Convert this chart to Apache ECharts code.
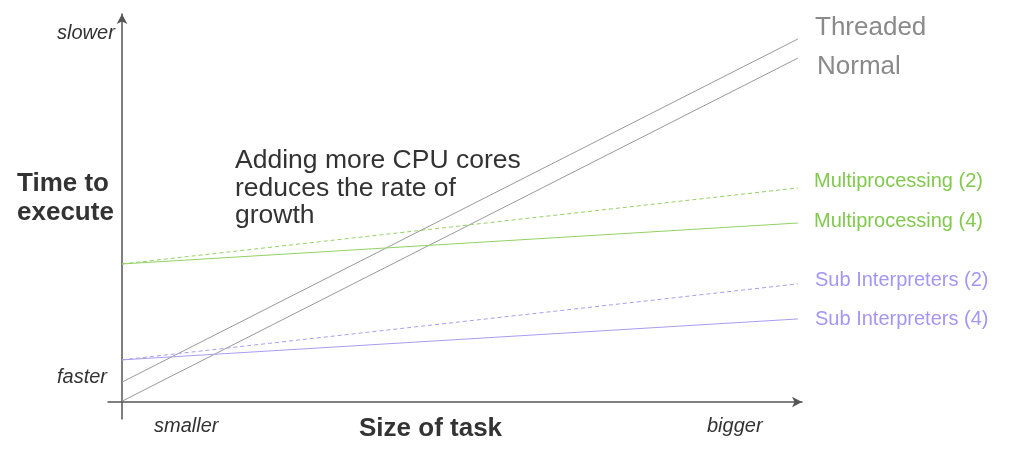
<!DOCTYPE html>
<html>
<head>
<meta charset="utf-8">
<script src="https://cdn.jsdelivr.net/npm/echarts@6/dist/echarts.min.js"></script>
<style>
html,body{margin:0;padding:0;background:#fff;}
#c{width:1024px;height:461px;}
</style>
</head>
<body>
<div id="c"></div>
<script>
// Task size positions (start, end) on a 0..100 scale
var taskSize = [0, 100];
// Time-to-execute values at the two task sizes
var threaded = [5.1, 93.1];
var normal = [0.2, 88.2];
var multi2 = [35.4, 54.9];
var multi4 = [35.4, 45.9];
var sub2 = [10.8, 30.3];
var sub4 = [10.8, 21.3];
var seriesNames = ['Threaded', 'Normal', 'Multiprocessing (2)', 'Multiprocessing (4)', 'Sub Interpreters (2)', 'Sub Interpreters (4)'];
var axisTitles = ['Time to\nexecute', 'Size of task'];
var yEndLabels = ['slower', 'faster'];
var xEndLabels = ['smaller', 'bigger'];
var annotation = 'Adding more CPU cores\nreduces the rate of\ngrowth';

var GRAY = '#999999', GRAY_T = '#8a8a8a';
var GREEN = '#92d262', GREEN_T = '#82c94e';
var PURPLE = '#a89cf2', PURPLE_T = '#a596f4';
var FONT = '"Liberation Sans", Arial, Helvetica, sans-serif';

function pts(vals){ return taskSize.map(function(x,i){ return [x, vals[i]]; }); }
function mk(name, vals, color, dashed){
  return {
    type:'line', name:name, data:pts(vals), symbol:'none', silent:true,
    lineStyle:{color:color, width:1, type: dashed ? [4,3] : 'solid'},
    animation:false
  };
}

var chart = echarts.init(document.getElementById('c'), null, {renderer:'canvas'});
chart.setOption({
  animation:false,
  grid:{left:108, right:1024-802, top:14, bottom:461-419, containLabel:false},
  xAxis:{type:'value', min:-2.07, max:100.6, splitLine:{show:false}, axisTick:{show:false}, axisLabel:{show:false},
    axisLine:{show:true, onZero:true, symbol:['none','arrow'], symbolSize:[8,10], lineStyle:{color:'#555', width:1.5}}},
  yAxis:{type:'value', min:-4.36, max:99.5, splitLine:{show:false}, axisTick:{show:false}, axisLabel:{show:false},
    axisLine:{show:true, onZero:true, symbol:['none','arrow'], symbolSize:[8,10], lineStyle:{color:'#555', width:1.5}}},
  series:[
    mk(seriesNames[0], threaded, GRAY, false),
    mk(seriesNames[1], normal, GRAY, false),
    mk(seriesNames[2], multi2, GREEN, true),
    mk(seriesNames[3], multi4, GREEN, false),
    mk(seriesNames[4], sub2, PURPLE, true),
    mk(seriesNames[5], sub4, PURPLE, false)
  ],
  graphic:[
    {type:'text', left:815, top:15, silent:true, style:{text:seriesNames[0], fontFamily:FONT, fontSize:26, fill:GRAY_T}},
    {type:'text', left:817, top:54, silent:true, style:{text:seriesNames[1], fontFamily:FONT, fontSize:26, fill:GRAY_T}},
    {type:'text', left:814, top:171, silent:true, style:{text:seriesNames[2], fontFamily:FONT, fontSize:20, fill:GREEN_T}},
    {type:'text', left:814, top:211, silent:true, style:{text:seriesNames[3], fontFamily:FONT, fontSize:20, fill:GREEN_T}},
    {type:'text', left:815, top:270, silent:true, style:{text:seriesNames[4], fontFamily:FONT, fontSize:20, fill:PURPLE_T}},
    {type:'text', left:815, top:309, silent:true, style:{text:seriesNames[5], fontFamily:FONT, fontSize:20, fill:PURPLE_T}},
    {type:'text', left:17, top:169, silent:true, style:{text:axisTitles[0], fontFamily:FONT, fontSize:26, fontWeight:'bold', lineHeight:29, fill:'#333'}},
    {type:'text', left:359, top:416, silent:true, style:{text:axisTitles[1], fontFamily:FONT, fontSize:26, fontWeight:'bold', fill:'#333'}},
    {type:'text', left:57, top:23, silent:true, style:{text:yEndLabels[0], fontFamily:FONT, fontSize:20, fontStyle:'italic', fill:'#333'}},
    {type:'text', left:57, top:367, silent:true, style:{text:yEndLabels[1], fontFamily:FONT, fontSize:20, fontStyle:'italic', fill:'#333'}},
    {type:'text', left:154, top:416, silent:true, style:{text:xEndLabels[0], fontFamily:FONT, fontSize:20, fontStyle:'italic', fill:'#333'}},
    {type:'text', left:707, top:416, silent:true, style:{text:xEndLabels[1], fontFamily:FONT, fontSize:20, fontStyle:'italic', fill:'#333'}},
    {type:'text', left:235, top:147, silent:true, style:{text:annotation, fontFamily:FONT, fontSize:26.5, lineHeight:27.5, fill:'#333'}}
  ]
});
</script>
</body>
</html>
